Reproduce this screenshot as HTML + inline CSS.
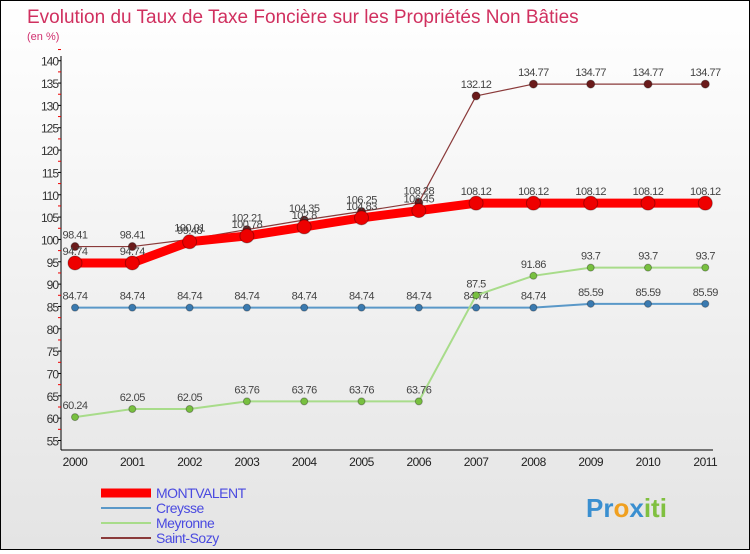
<!DOCTYPE html>
<html><head><meta charset="utf-8"><style>
body{margin:0;background:#fff}
#c{width:748px;height:548px;border:1px solid #000;background:linear-gradient(#fff,#e4e4e4);position:relative;font-family:"Liberation Sans",sans-serif}
svg text{font-family:"Liberation Sans",sans-serif}
</style></head><body>
<div id="c">
<svg id="s" width="748" height="548">
<text x="26" y="22" font-size="19" fill="#d0305f">Evolution du Taux de Taxe Foncière sur les Propriétés Non Bâties</text>
<text x="26" y="39" font-size="11" fill="#d0306f">(en %)</text>
<g id="ax"></g><g id="ser"></g><g id="leg"></g>
<text x="585" y="516" font-size="26" font-weight="bold" fill="#3a8fd0">Pr<tspan fill="#f0a020">o</tspan><tspan fill="#3a8fd0">x</tspan><tspan fill="#80c040">iti</tspan></text>
</svg></div>
<script>
const years=[2000,2001,2002,2003,2004,2005,2006,2007,2008,2009,2010,2011];
const montvalent=[94.74,94.74,99.48,100.78,102.8,104.83,106.45,108.12,108.12,108.12,108.12,108.12];
const creysse=[84.74,84.74,84.74,84.74,84.74,84.74,84.74,84.74,84.74,85.59,85.59,85.59];
const meyronne=[60.24,62.05,62.05,63.76,63.76,63.76,63.76,87.5,91.86,93.7,93.7,93.7];
const saintSozy=[98.41,98.41,100.01,102.21,104.35,106.25,108.28,132.12,134.77,134.77,134.77,134.77];
const yTicks=[55,60,65,70,75,80,85,90,95,100,105,110,115,120,125,130,135,140];
const NS="http://www.w3.org/2000/svg";
const X=i=>74+i*57.3, Y=v=>439.5-(v-55)*4.468;
function mk(p,t,a){const e=document.createElementNS(NS,t);for(const k in a)e.setAttribute(k,a[k]);p.appendChild(e);return e;}
const ax=document.getElementById('ax');
let e=mk(ax,'line',{x1:60,y1:55,x2:60,y2:449,stroke:'#000'});

e=mk(ax,'line',{x1:60,y1:449,x2:712,y2:449,stroke:'#000'});

yTicks.forEach(v=>{
 mk(ax,'line',{x1:57,x2:60,y1:Y(v),y2:Y(v),stroke:'#000'});
 mk(ax,'line',{x1:57,x2:60,y1:Y(v+2.5),y2:Y(v+2.5),stroke:'#e00'});
 const t=mk(ax,'text',{x:57,y:Y(v)+5,'font-size':12,'text-anchor':'end',fill:'#333','letter-spacing':'-1'});
 t.textContent=v;
 
});
years.forEach((y,i)=>{
 const t=mk(ax,'text',{x:X(i),y:465,'font-size':12,'text-anchor':'middle',fill:'#222','letter-spacing':'-0.5'});
 t.textContent=y;
 
});
const series=[
 {n:'Creysse',d:creysse,c:'#5a98c8',w:2,r:3.5,dc:'#3a7ab0'},
 {n:'Meyronne',d:meyronne,c:'#a8dc8a',w:2,r:3.5,dc:'#78c040'},
 {n:'Saint-Sozy',d:saintSozy,c:'#8a3a3a',w:1.2,r:4,dc:'#6a1a1a'},
 {n:'MONTVALENT',d:montvalent,c:'#f00',w:9,r:7,dc:'#e00'}];
const sg=document.getElementById('ser');
series.forEach(s=>{
 const g=mk(sg,'g',{});
 
 const pl=mk(g,'polyline',{points:s.d.map((v,i)=>X(i)+','+Y(v)).join(' '),fill:'none',stroke:s.c,'stroke-width':s.w,'stroke-linejoin':'round'});
 
 s.d.forEach((v,i)=>{
  const c=mk(g,'circle',{cx:X(i),cy:Y(v),r:s.r,fill:s.dc,stroke:'rgba(0,0,0,0.3)'});
  
  const t=mk(g,'text',{x:X(i),y:Y(v)-8,'font-size':11,'text-anchor':'middle',fill:'#444','letter-spacing':'-0.5'});
  t.textContent=String(v);
  
 });
});
const lg=document.getElementById('leg');
[series[3],series[0],series[1],series[2]].forEach((s,k)=>{
 const y=492+k*15;
 const l=mk(lg,'line',{x1:100,x2:150,y1:y,y2:y,stroke:s.c,'stroke-width':s.n==='MONTVALENT'?9:2});
 
 const t=mk(lg,'text',{x:155,y:y+5,'font-size':14,fill:'#4a4ae0','letter-spacing':'-0.5'});
 t.textContent=s.n;
 
});
</script>
</body></html>
